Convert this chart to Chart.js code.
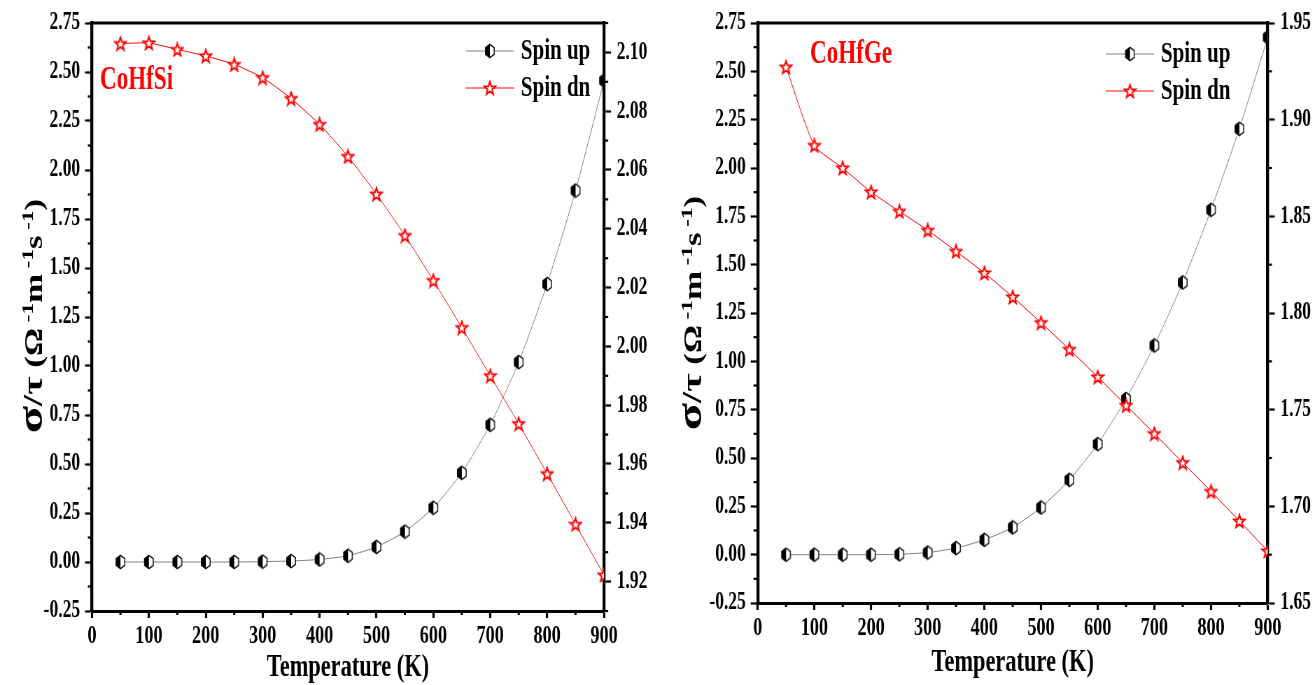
<!DOCTYPE html>
<html>
<head>
<meta charset="utf-8">
<script src="https://cdn.jsdelivr.net/npm/chart.js"></script>
<style>
  body { margin: 0; background: #fff; width: 1315px; height: 685px; overflow: hidden; position: relative; }
  canvas { position: absolute; top: 0; }
</style>
</head>
<body>
<canvas id="chartSi"></canvas>
<canvas id="chartGe"></canvas>
<script>
// Temperature points (K)
var temps = [50, 100, 150, 200, 250, 300, 350, 400, 450, 500, 550, 600, 650, 700, 750, 800, 850, 900];

// CoHfSi
var upSi = [0, 0, 0, 0, 0, 0.002, 0.005, 0.013, 0.032, 0.077, 0.155, 0.277, 0.455, 0.700, 1.020, 1.418, 1.895, 2.456];
var dnSi = [2.1030, 2.1032, 2.1010, 2.0988, 2.0959, 2.0914, 2.0843, 2.0755, 2.0646, 2.0518, 2.0377, 2.0224, 2.0064, 1.9900, 1.9737, 1.9567, 1.9395, 1.9222];

// CoHfGe
var upGe = [0, 0, 0, 0, 0.002, 0.011, 0.034, 0.077, 0.141, 0.244, 0.387, 0.572, 0.805, 1.082, 1.408, 1.784, 2.203, 2.676];
var dnGe = [1.9272, 1.8867, 1.8750, 1.8626, 1.8526, 1.8428, 1.8319, 1.8207, 1.8083, 1.7950, 1.7812, 1.7669, 1.7522, 1.7376, 1.7226, 1.7077, 1.6924, 1.6769];

var seriesLabels = ['Spin up', 'Spin dn'];

// the original figure is horizontally condensed, so draw wide and squeeze with css
var sqX = 0.7;
var serif = "'Liberation Serif', 'Times New Roman', serif";

function hexMarker() {
    var c = document.createElement('canvas');
    c.width = 16; c.height = 16;
    var g = c.getContext('2d');
    var cx = 8, cy = 8, w = 6.2, h = 6.6, k = 3.4;
    function path() {
        g.beginPath();
        g.moveTo(cx, cy - h); g.lineTo(cx + w, cy - k); g.lineTo(cx + w, cy + k);
        g.lineTo(cx, cy + h); g.lineTo(cx - w, cy + k); g.lineTo(cx - w, cy - k);
        g.closePath();
    }
    path(); g.fillStyle = '#fff'; g.fill();
    g.save(); g.beginPath(); g.rect(0, 0, cx, c.height); g.clip();
    path(); g.fillStyle = '#000'; g.fill(); g.restore();
    path(); g.lineWidth = 1.4; g.strokeStyle = '#000'; g.stroke();
    return c;
}

function starMarker() {
    var c = document.createElement('canvas');
    c.width = 20; c.height = 16;
    var g = c.getContext('2d');
    var cx = 10, cy = 8.6, rx = 8.3, ry = 6.9;
    g.beginPath();
    for (var i = 0; i < 10; i++) {
        var ang = -Math.PI / 2 + i * Math.PI / 5;
        var r = (i % 2 === 0) ? 1 : 0.42;
        var px = cx + Math.cos(ang) * rx * r, py = cy + Math.sin(ang) * ry * r;
        if (i === 0) g.moveTo(px, py); else g.lineTo(px, py);
    }
    g.closePath();
    g.fillStyle = '#fff'; g.fill();
    g.lineWidth = 2; g.strokeStyle = '#ff0000'; g.stroke();
    return c;
}

var hexImg = hexMarker();
var starImg = starMarker();

// decorations: top frame, minor ticks, legend, compound label, y title
var decoPlugin = {
    id: 'deco',
    afterDraw: function (chart, args, o) {
        var ctx = chart.ctx, a = chart.chartArea;
        ctx.save();
        ctx.strokeStyle = '#000';
        ctx.lineWidth = 3;
        ctx.beginPath();
        ctx.moveTo(a.left - 2, a.top);
        ctx.lineTo(a.right + 2, a.top);
        ctx.stroke();

        // minor ticks halfway between major ones
        ['x', 'y', 'y2'].forEach(function (id) {
            var s = chart.scales[id];
            if (!s || s.ticks.length < 2) return;
            var step = s.ticks[1].value - s.ticks[0].value;
            ctx.lineWidth = id === 'x' ? 3 : 2.2;
            for (var v = s.ticks[0].value - step / 2; v <= s.max + 1e-9; v += step) {
                if (v < s.min - 1e-9) continue;
                var p = s.getPixelForValue(v);
                ctx.beginPath();
                if (id === 'x') { ctx.moveTo(p, a.bottom); ctx.lineTo(p, a.bottom + 4); }
                else if (id === 'y') { ctx.moveTo(a.left, p); ctx.lineTo(a.left - 6, p); }
                else { ctx.moveTo(a.right, p); ctx.lineTo(a.right + 6, p); }
                ctx.stroke();
            }
        });

        // compound name
        ctx.fillStyle = '#ff0000';
        ctx.font = 'bold 33px ' + serif;
        ctx.textBaseline = 'middle';
        ctx.textAlign = 'left';
        ctx.fillText(o.name, o.nameX / sqX, o.nameY);

        // legend
        chart.data.datasets.forEach(function (ds, i) {
            var y = o.legY[i];
            var x0 = o.legX / sqX, x1 = (o.legX + 48) / sqX, xm = (o.legX + 24) / sqX;
            ctx.strokeStyle = ds.borderColor;
            ctx.lineWidth = 1;
            ctx.beginPath(); ctx.moveTo(x0, y); ctx.lineTo(x1, y); ctx.stroke();
            var img = ds.pointStyle;
            ctx.drawImage(img, xm - img.width / 2, y - img.height / 2);
            ctx.fillStyle = '#000';
            ctx.font = 'bold 30px ' + serif;
            ctx.fillText(ds.label, (o.legX + 55) / sqX, y);
        });

        // y axis title with superscripts
        var parts = [
            { t: 'σ', s: 50 }, { t: '/τ', s: 40 }, { t: ' (Ω', s: 35 }, { t: ' -1', s: 23, up: true },
            { t: 'm', s: 35 }, { t: ' -1', s: 23, up: true }, { t: 's', s: 35 },
            { t: ' -1', s: 23, up: true }, { t: ')', s: 35 }
        ];
        var total = 0;
        parts.forEach(function (p) {
            ctx.font = 'bold ' + p.s + 'px ' + serif;
            p.w = ctx.measureText(p.t).width;
            total += p.w;
        });
        ctx.translate(o.ytX / sqX, o.ytY);
        ctx.rotate(-Math.PI / 2);
        ctx.fillStyle = '#000';
        ctx.textBaseline = 'alphabetic';
        var x = -total / 2;
        parts.forEach(function (p) {
            ctx.font = 'bold ' + p.s + 'px ' + serif;
            ctx.fillText(p.t, x, p.up ? 0 : 13);
            x += p.w;
        });
        ctx.restore();
    }
};

function fmt2(v) { return Number(v).toFixed(2); }

function makeChart(id, cssLeft, cssWidth, up, dn, lay) {
    var cv = document.getElementById(id);
    cv.width = Math.round(cssWidth / sqX);
    cv.height = 685;
    cv.style.left = cssLeft + 'px';
    cv.style.width = cssWidth + 'px';
    cv.style.height = '685px';

    var tickFont = { family: serif, size: 25, weight: 'bold' };
    var axisGrid = { display: true, drawOnChartArea: false, drawTicks: true, tickLength: 10, tickWidth: 2.2, tickColor: '#000' };

    return new Chart(cv, {
        type: 'line',
        data: {
            datasets: [{
                label: seriesLabels[0],
                data: temps.map(function (t, i) { return { x: t, y: up[i] }; }),
                yAxisID: 'y',
                borderColor: '#7f7f7f',
                borderWidth: 1,
                pointStyle: hexImg,
                tension: 0.2,
                clip: 0,
                order: 1
            }, {
                label: seriesLabels[1],
                data: temps.map(function (t, i) { return { x: t, y: dn[i] }; }),
                yAxisID: 'y2',
                borderColor: '#ff0000',
                borderWidth: 1,
                pointStyle: starImg,
                tension: 0.2,
                clip: 0,
                order: 0
            }]
        },
        options: {
            responsive: false,
            animation: false,
            devicePixelRatio: 1,
            layout: { padding: { top: lay.top, left: 0, right: 0, bottom: 0 } },
            plugins: {
                legend: { display: false },
                tooltip: { enabled: false },
                deco: lay.deco
            },
            scales: {
                x: {
                    type: 'linear', position: 'bottom', min: 0, max: 900,
                    ticks: { stepSize: 100, font: { family: serif, size: 26, weight: 'bold' }, color: '#000', padding: 3, maxRotation: 0 },
                    grid: { display: true, drawOnChartArea: false, drawTicks: true, tickLength: 7, tickWidth: 3.2, tickColor: '#000' },
                    border: { display: true, color: '#000', width: 3 },
                    title: { display: true, text: 'Temperature (K)', color: '#000',
                             font: { family: serif, size: 32, weight: 'bold', lineHeight: 1 },
                             padding: { top: 0, bottom: lay.titlePad } },
                    afterFit: function (s) { s.height = lay.xH; }
                },
                y: {
                    type: 'linear', position: 'left', min: -0.25, max: 2.75,
                    ticks: { stepSize: 0.25, font: tickFont, color: '#000', padding: 7, callback: fmt2 },
                    grid: axisGrid,
                    border: { display: true, color: '#000', width: 4.3 },
                    afterFit: function (s) { s.width = lay.yW; }
                },
                y2: {
                    type: 'linear', position: 'right', min: lay.r.min, max: lay.r.max,
                    ticks: { stepSize: lay.r.gen, font: tickFont, color: '#000', padding: 8, callback: fmt2 },
                    grid: axisGrid,
                    border: { display: true, color: '#000', width: 4.3 },
                    // keep only the labelled multiples of the major step
                    afterBuildTicks: function (s) {
                        s.ticks = s.ticks.filter(function (t) {
                            var q = t.value / lay.r.step;
                            return Math.abs(q - Math.round(q)) < 1e-6;
                        });
                    },
                    afterFit: function (s) { s.width = lay.y2W; }
                }
            }
        },
        plugins: [decoPlugin]
    });
}

makeChart('chartSi', 0, 655, upSi, dnSi, {
    top: 21, xH: 74, titlePad: 1, yW: 92 / sqX, y2W: 51 / sqX,
    r: { min: 1.91, max: 2.11, gen: 0.01, step: 0.02 },
    deco: { name: 'CoHfSi', nameX: 100, nameY: 80, legX: 466, legY: [51, 88], ytX: 33, ytY: 316 }
});

makeChart('chartGe', 655, 660, upGe, dnGe, {
    top: 23, xH: 82, titlePad: 6, yW: 102.7 / sqX, y2W: 47.3 / sqX,
    r: { min: 1.65, max: 1.95, gen: 0.05, step: 0.05 },
    deco: { name: 'CoHfGe', nameX: 155, nameY: 54, legX: 451, legY: [54, 91], ytX: 37, ytY: 313 }
});
</script>
</body>
</html>
